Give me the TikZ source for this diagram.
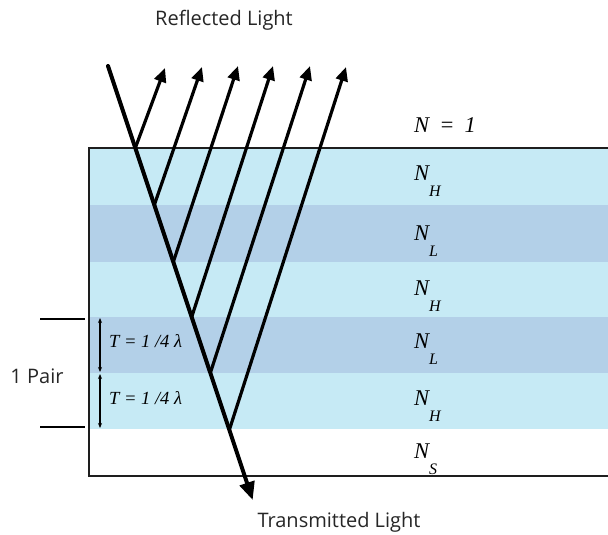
\documentclass[tikz,border=0pt]{standalone}
\usepackage{fontspec}
\setmainfont{Liberation Serif}
\setsansfont{Open Sans}
\usetikzlibrary{arrows.meta,positioning}
\definecolor{layerhigh}{RGB}{198,234,245}
\definecolor{layerlow}{RGB}{179,208,232}
\definecolor{edgegray}{RGB}{30,30,30}
\newcommand{\layeridx}[1]{\textit{N}\hspace{-0.05em}\raisebox{-0.75em}{\fontsize{16}{16}\selectfont\textit{#1}}}

\begin{document}
\begin{tikzpicture}[x=1pt, y=-1pt,
  idx/.style={anchor=base west, inner sep=0pt, font=\fontsize{22.5}{23}\selectfont},
  thick/.style={anchor=west, inner sep=0pt, font=\fontsize{18.5}{19}\selectfont\itshape},
  caption/.style={font=\sffamily\fontsize{20}{20}\selectfont, text=black!85},
  ray/.style={line width=3.2pt, line cap=round},
  dim/.style={line width=1.4pt, {Stealth[length=5pt,width=4pt]}-{Stealth[length=5pt,width=4pt]}}]
  \useasboundingbox (0,0) rectangle (608,535);

  % layer stack
  \fill[layerhigh] (89,148) rectangle (608,205);
  \fill[layerlow]  (89,205) rectangle (608,262);
  \fill[layerhigh] (89,262) rectangle (608,317);
  \fill[layerlow]  (89,317) rectangle (608,373);
  \fill[layerhigh] (89,373) rectangle (608,429);
  \draw[line width=2.5pt, edgegray] (608,148) -- (89,148) -- (89,476) -- (608,476);

  % refractive indices
  \node[idx] (nair) at (414,132) {\textit{N\hspace{0.45em}=\hspace{0.45em}1}};
  \node[idx] (nh1) at (414,180) {\layeridx{H}};
  \node[idx] (nl1) at (414,240) {\layeridx{L}};
  \node[idx] (nh2) at (414,295) {\layeridx{H}};
  \node[idx] (nl2) at (414,348) {\layeridx{L}};
  \node[idx] (nh3) at (414,405) {\layeridx{H}};
  \node[idx] (ns)  at (414,458) {\layeridx{S}};

  % incident and transmitted ray
  \coordinate (src) at (108,66);
  \coordinate (r0) at (135.3,148);
  \coordinate (r1) at (154.3,205);
  \coordinate (r2) at (173.3,262);
  \coordinate (r3) at (191.7,317);
  \coordinate (r4) at (210.3,373);
  \coordinate (r5) at (229.3,430);
  \coordinate (out) at (252.7,500);
  \draw[ray, line width=4pt, -{Triangle[length=18pt,width=15pt]}] (src) -- (out);

  % reflected rays
  \coordinate (t0) at (165,68);
  \coordinate (t1) at (202,67);
  \coordinate (t2) at (238,66);
  \coordinate (t3) at (273,66);
  \coordinate (t4) at (310,66);
  \coordinate (t5) at (346,67);
  \foreach \i in {0,...,5}
    \draw[ray, -{Triangle[length=14pt,width=12pt]}] (r\i) -- (t\i);

  \node[caption] (refl) at (224,20) {Reflected Light};
  \node[caption] (trans) at (339,522) {Transmitted Light};

  % one pair of layers
  \coordinate (k0) at (40,319);
  \coordinate (k1) at (85,319);
  \coordinate (k2) at (40,427);
  \coordinate (k3) at (85,427);
  \draw[line width=2.5pt] (k0) -- (k1);
  \draw[line width=2.5pt] (k2) -- (k3);
  \node[caption] (pair) at (37,376) {1 Pair};

  \coordinate (d0) at (100,318);
  \coordinate (d1) at (100,372);
  \coordinate (d2) at (100,374);
  \coordinate (d3) at (100,428);
  \draw[dim] (d0) -- (d1);
  \draw[dim] (d2) -- (d3);
  \node[thick] (tlow) at (109,341) {T = 1 /4 λ};
  \node[thick] (thigh) at (109,398) {T = 1 /4 λ};
\end{tikzpicture}
\end{document}
